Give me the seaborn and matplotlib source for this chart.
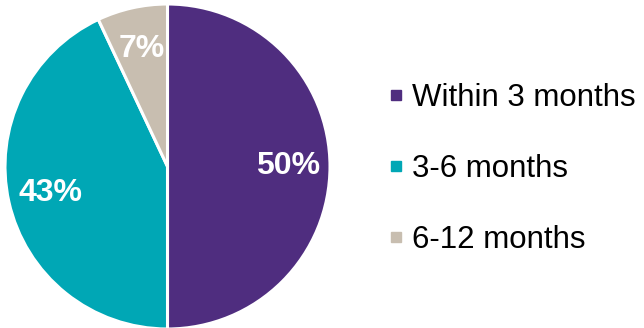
import matplotlib
matplotlib.use("Agg")
import matplotlib.pyplot as plt
from matplotlib.lines import Line2D
import seaborn as sns

categories = ["Within 3 months", "3-6 months", "6-12 months"]
values = [50, 43, 7]
colors = ["#4F2D7F", "#00A7B5", "#C8BEB0"]

sns.set_theme(style="white")
plt.rcParams["font.family"] = ["Liberation Sans", "DejaVu Sans"]

fig = plt.figure(figsize=(6.44, 3.28), dpi=100)
ax = fig.add_axes([5/644, -1/328, 325/644, 325/328])
wedges, texts, autotexts = ax.pie(
    values, colors=colors, startangle=90, counterclock=False,
    autopct=lambda p: f"{p:.0f}%", pctdistance=0.74,
    wedgeprops=dict(edgecolor="white", linewidth=2.2),
    textprops=dict(color="white", fontsize=23, fontweight="bold"),
)
ax.set_xlim(-1.0, 1.0)
ax.set_ylim(-1.0, 1.0)
ax.set_aspect("equal")
ax.axis("off")

handles = [Line2D([0], [0], marker="s", linestyle="none", markersize=7.5,
                  markerfacecolor=c, markeredgecolor=c) for c in colors]
leg = fig.legend(handles, categories, loc="center left", bbox_to_anchor=(390/644, 159/328),
                 frameon=False, fontsize=22.5, labelspacing=1.3, handlelength=0.4,
                 handletextpad=0.3, borderpad=0, borderaxespad=0)
for t in leg.get_texts():
    t.set_color("black")
fig.savefig("out.png", dpi=100, facecolor="white")
